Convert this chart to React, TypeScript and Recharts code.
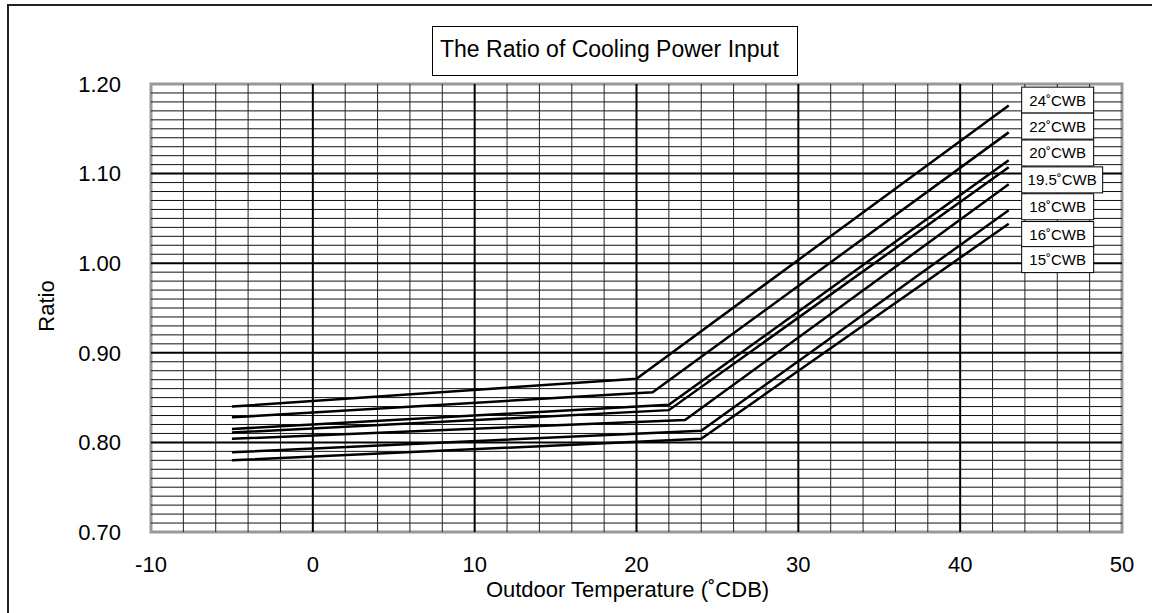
import React from 'react';
import {
  LineChart,
  Line,
  XAxis,
  YAxis,
  ReferenceLine,
  ReferenceArea,
  ReferenceDot,
} from 'recharts';

const FONT = '"Liberation Sans", Arial, sans-serif';

// ratio vs outdoor temp, one array per indoor wet-bulb curve
const cwb24 = [{ t: -5, r: 0.84 }, { t: 20, r: 0.871 }, { t: 43, r: 1.176 }];
const cwb22 = [{ t: -5, r: 0.828 }, { t: 21, r: 0.856 }, { t: 43, r: 1.146 }];
const cwb20 = [{ t: -5, r: 0.815 }, { t: 22, r: 0.842 }, { t: 43, r: 1.115 }];
const cwb195 = [{ t: -5, r: 0.811 }, { t: 22, r: 0.836 }, { t: 43, r: 1.107 }];
const cwb18 = [{ t: -5, r: 0.804 }, { t: 23, r: 0.825 }, { t: 43, r: 1.088 }];
const cwb16 = [{ t: -5, r: 0.789 }, { t: 24, r: 0.813 }, { t: 43, r: 1.059 }];
const cwb15 = [{ t: -5, r: 0.78 }, { t: 24, r: 0.804 }, { t: 43, r: 1.044 }];

const seriesNames = ['24˚CWB', '22˚CWB', '20˚CWB', '19.5˚CWB', '18˚CWB', '16˚CWB', '15˚CWB'];
const seriesData = [cwb24, cwb22, cwb20, cwb195, cwb18, cwb16, cwb15];

const xTicks = [-10, 0, 10, 20, 30, 40, 50];
const yTicks = [0.7, 0.8, 0.9, 1.0, 1.1, 1.2];

// label boxes stacked at the right end (layout only)
const labelX = 43.8;
const labelY = [1.182, 1.153, 1.123, 1.093, 1.063, 1.032, 1.004];

// dense graph-paper grid: every 2 deg and every 0.01
const gridX = Array.from({ length: 29 }, (_, i) => -8 + i * 2).filter(v => v % 10 !== 0);
const gridY = Array.from({ length: 49 }, (_, i) => Math.round((0.71 + i * 0.01) * 100) / 100).filter(
  v => Math.round(v * 100) % 10 !== 0
);
const majorX = [0, 10, 20, 30, 40];
const majorY = [0.8, 0.9, 1.0, 1.1];

const tickStyle = { fontSize: 22, fill: '#000', fontFamily: FONT };

export default function App() {
  return (
    <div
      style={{
        position: 'absolute',
        left: 0,
        top: 0,
        width: 1152,
        height: 613,
        background: '#fff',
        fontFamily: FONT,
        overflow: 'hidden',
      }}
    >
      <div
        style={{
          position: 'absolute',
          left: 7,
          top: 4,
          right: 0,
          bottom: 0,
          borderTop: '2px solid #222',
          borderLeft: '2px solid #222',
        }}
      />
      <LineChart width={1152} height={613} margin={{ top: 84, right: 30, bottom: 0, left: 0 }}>
        {gridY.map(v => (
          <ReferenceLine key={'gy' + v} y={v} stroke="#111" strokeWidth={1} />
        ))}
        {gridX.map(v => (
          <ReferenceLine key={'gx' + v} x={v} stroke="#222" strokeWidth={1} />
        ))}
        {majorX.map(v => (
          <ReferenceLine key={'x' + v} x={v} stroke="#000" strokeWidth={2} />
        ))}
        {majorY.map(v => (
          <ReferenceLine key={'y' + v} y={v} stroke="#000" strokeWidth={2} />
        ))}
        <XAxis
          type="number"
          dataKey="t"
          domain={[-10, 50]}
          ticks={xTicks}
          allowDataOverflow
          tickSize={0}
          tickMargin={24}
          axisLine={false}
          tick={tickStyle}
          height={81}
          label={{
            value: 'Outdoor Temperature (˚CDB)',
            position: 'insideBottom',
            offset: 16,
            dx: -9,
            fontSize: 22,
            fill: '#000',
            fontFamily: FONT,
          }}
        />
        <YAxis
          type="number"
          domain={[0.7, 1.2]}
          ticks={yTicks}
          allowDataOverflow
          tickFormatter={(v: number) => v.toFixed(2)}
          width={151}
          tickSize={0}
          tickMargin={30}
          axisLine={false}
          tick={tickStyle}
        />
        {seriesData.map((d, i) => (
          <Line
            key={seriesNames[i]}
            data={d}
            dataKey="r"
            name={seriesNames[i]}
            stroke="#000"
            strokeWidth={2.5}
            dot={false}
            activeDot={false}
            isAnimationActive={false}
          />
        ))}
        <ReferenceArea x1={-10} x2={50} y1={0.7} y2={1.2} fill="none" stroke="#999" strokeWidth={3} />
        {seriesNames.map((name, i) => (
          <ReferenceDot
            key={'lbl' + name}
            x={labelX}
            y={labelY[i]}
            shape={(p: any) => {
              const w = name.length > 6 ? 81 : 72;
              return (
                <g>
                  <rect x={p.cx} y={p.cy - 13} width={w} height={26} fill="#fff" stroke="#000" strokeWidth={1} />
                  <text
                    x={p.cx + w / 2}
                    y={p.cy + 5.5}
                    textAnchor="middle"
                    fontSize={15}
                    fontFamily={FONT}
                    fill="#000"
                  >
                    {name}
                  </text>
                </g>
              );
            }}
          />
        ))}
      </LineChart>
      <div
        style={{
          position: 'absolute',
          left: 432,
          top: 26,
          width: 366,
          height: 50,
          boxSizing: 'border-box',
          border: '1.5px solid #000',
          background: '#fff',
          paddingLeft: 7,
          paddingTop: 9,
          fontSize: 23,
          whiteSpace: 'nowrap',
        }}
      >
        The Ratio of Cooling Power Input
      </div>
      <span
        style={{
          position: 'absolute',
          left: 47,
          top: 306,
          transform: 'translate(-50%, -50%) rotate(-90deg)',
          fontSize: 22,
          whiteSpace: 'nowrap',
        }}
      >
        Ratio
      </span>
    </div>
  );
}
